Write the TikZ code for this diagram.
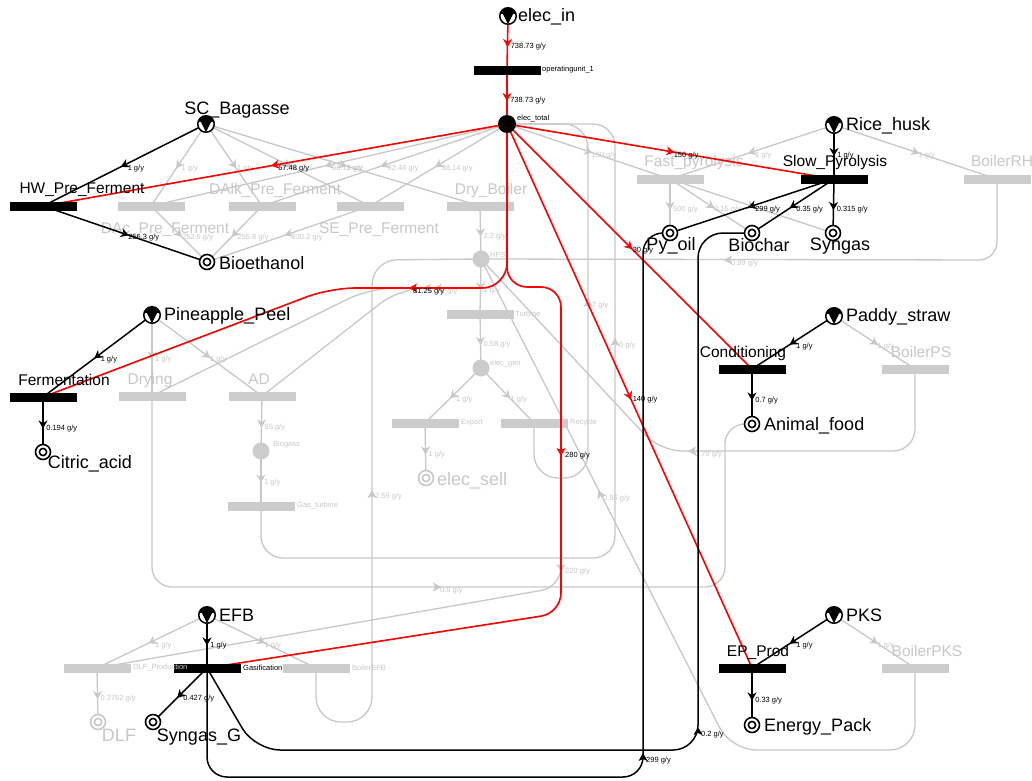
\documentclass[tikz,border=0pt]{standalone}
\usepackage{fontspec}
\setmainfont{Liberation Sans}
\usetikzlibrary{arrows.meta,decorations.markings}

\pgfdeclarelayer{paper}
\pgfdeclarelayer{offedges}
\pgfdeclarelayer{offnodes}
\pgfdeclarelayer{onedges}
\pgfsetlayers{paper,offedges,offnodes,onedges,main}

\definecolor{offgray}{RGB}{200,200,200}
\definecolor{bargray}{RGB}{204,204,204}
\definecolor{flowred}{RGB}{255,0,0}

\tikzset{
  matlbl/.style={font=\fontsize{18}{20}\selectfont, inner sep=0pt},
  oplbl/.style={font=\fontsize{15.5}{17}\selectfont, inner sep=0pt},
  tinylbl/.style={font=\fontsize{7.5}{9}\selectfont, inner sep=0pt, anchor=west},
  flowtxt/.style={font=\fontsize{7.5}{9}\selectfont, inner sep=0pt, anchor=west},
  elab/.style={flowtxt, xshift=2.5pt, yshift=-4pt, text=black},
  offlab/.style={flowtxt, xshift=2.5pt, yshift=-4pt, text=offgray},
  rawmat/.style={circle, draw=black, fill=white, line width=1.5pt, minimum size=16.5pt, inner sep=0pt,
    path picture={
      \fill[black] ([shift={(-5.2,-2.4)}]path picture bounding box.center)
        -- ([shift={(5.2,-2.4)}]path picture bounding box.center)
        -- ([shift={(0,8.2)}]path picture bounding box.center) -- cycle;
      \fill[black] ([shift={(-10,-2.4)}]path picture bounding box.center)
        rectangle ([shift={(10,-12)}]path picture bounding box.center);
    }},
  product/.style={circle, draw=black, fill=white, line width=1.6pt, minimum size=15pt, inner sep=0pt,
    path picture={\draw[black, line width=1.6pt] (path picture bounding box.center) circle[radius=3.6pt];}},
  offproduct/.style={circle, draw=offgray, fill=white, line width=1.6pt, minimum size=15pt, inner sep=0pt,
    path picture={\draw[offgray, line width=1.6pt] (path picture bounding box.center) circle[radius=3.6pt];}},
  actbar/.style={rectangle, fill=black, minimum width=67pt, minimum height=9pt, inner sep=0pt},
  offbar/.style={rectangle, fill=bargray, minimum width=67pt, minimum height=9pt, inner sep=0pt},
  hub/.style={circle, fill=black, minimum size=18pt, inner sep=0pt},
  offhub/.style={circle, fill=bargray, minimum size=17pt, inner sep=0pt},
  onflow/.style={draw=black, line width=1.5pt},
  redflow/.style={draw=flowred, line width=1.6pt},
  offflow/.style={draw=offgray, line width=1.3pt},
  midarrow/.style={postaction={decorate, decoration={markings,
      mark=at position 0.5 with {\pgftransformxshift{4pt}\arrow{Stealth[length=8pt,width=9pt,inset=2.5pt]}}}}},
  ahead/.pic={\fill (4,0) -- (-4,4.5) -- (-2,0) -- (-4,-4.5) -- cycle;}
}

\begin{document}
\begin{tikzpicture}[x=1pt, y=-1pt]
\useasboundingbox (0,0) rectangle (1032,780);
\begin{pgfonlayer}{paper}
  \fill[white] (0,0) rectangle (1032,780);
\end{pgfonlayer}

% ---------- active materials and units ----------
\node[rawmat] (elecin) at (508,16) {};
\node[matlbl, anchor=west] (elecinL) at (518,17) {elec\_in};
\node[actbar] (ou1) at (507,70) {};
\node[tinylbl] (ou1L) at (542,70) {operatingunit\_1};
\node[hub] (electotal) at (507,124) {};
\node[tinylbl] (electotalL) at (517,119) {elec\_total};

\node[rawmat] (scbag) at (206,124) {};
\node[matlbl] (scbagL) at (237,110) {SC\_Bagasse};
\node[actbar] (hw) at (43,206) {};
\node[oplbl] (hwL) at (82,190) {HW\_Pre\_Ferment};
\node[product] (bioeth) at (207,262) {};
\node[matlbl, anchor=west] (bioethL) at (219,263) {Bioethanol};

\node[rawmat] (rice) at (834,125) {};
\node[matlbl, anchor=west] (riceL) at (846,126) {Rice\_husk};
\node[actbar] (slowpy) at (834,179) {};
\node[oplbl] (slowpyL) at (835,162) {Slow\_Pyrolysis};
\node[product] (pyoil) at (670,233) {};
\node[matlbl] (pyoilL) at (671,246) {Py\_oil};
\node[product] (biochar) at (752,233) {};
\node[matlbl] (biocharL) at (759,245) {Biochar};
\node[product] (syngas) at (833,233) {};
\node[matlbl] (syngasL) at (840,246) {Syngas};

\node[rawmat] (paddy) at (834,316) {};
\node[matlbl, anchor=west] (paddyL) at (846,317) {Paddy\_straw};
\node[actbar] (cond) at (752,369) {};
\node[oplbl] (condL) at (743,353) {Conditioning};
\node[product] (animal) at (752,424) {};
\node[matlbl, anchor=west] (animalL) at (764,426) {Animal\_food};

\node[rawmat] (pks) at (834,615) {};
\node[matlbl, anchor=west] (pksL) at (846,615) {PKS};
\node[actbar] (ep) at (752,668) {};
\node[oplbl] (epL) at (758,652) {EP\_Prod};
\node[product] (energy) at (752,725) {};
\node[matlbl, anchor=west] (energyL) at (764,727) {Energy\_Pack};

\node[rawmat] (pine) at (152,315) {};
\node[matlbl, anchor=west] (pineL) at (164,316) {Pineapple\_Peel};
\node[actbar] (ferm) at (43,397) {};
\node[oplbl] (fermL) at (64,380) {Fermentation};
\node[product] (citric) at (43,452) {};
\node[matlbl] (citricL) at (90,464) {Citric\_acid};

\node[rawmat] (efb) at (207,615) {};
\node[matlbl, anchor=west] (efbL) at (219,615) {EFB};
\node[actbar] (gasif) at (207,668) {};
\node[tinylbl] (gasifL) at (243,668) {Gasification};
\node[product] (syngasg) at (153,722) {};
\node[matlbl] (syngasgL) at (199,737) {Syngas\_G};

% ---------- inactive materials and units ----------
\begin{pgfonlayer}{offnodes}
\node[offbar] (dac) at (151,206) {};
\node[oplbl, text=offgray] (dacL) at (165,230) {DAc\_Pre\_Ferment};
\node[offbar] (dalk) at (262,206) {};
\node[oplbl, text=offgray] (dalkL) at (275,190) {DAlk\_Pre\_Ferment};
\node[offbar] (se) at (370,206) {};
\node[oplbl, text=offgray] (seL) at (379,230) {SE\_Pre\_Ferment};
\node[offbar] (drybo) at (480,206) {};
\node[oplbl, text=offgray] (dryboL) at (491,190) {Dry\_Boiler};
\node[offbar] (fastpy) at (670,179) {};
\node[oplbl, text=offgray] (fastpyL) at (694,162) {Fast\_pyrolysis};
\node[offbar] (boilerrh) at (997,179) {};
\node[oplbl, text=offgray] (boilerrhL) at (1002,161) {BoilerRH};
\node[offbar] (boilerps) at (915,369) {};
\node[oplbl, text=offgray] (boilerpsL) at (921,352) {BoilerPS};
\node[offbar] (boilerpks) at (915,668) {};
\node[oplbl, text=offgray] (boilerpksL) at (927,651) {BoilerPKS};
\node[offbar] (drying) at (152,396) {};
\node[oplbl, text=offgray] (dryingL) at (150,380) {Drying};
\node[offbar] (ad) at (262,396) {};
\node[oplbl, text=offgray] (adL) at (259,379) {AD};
\node[offhub] (biogass) at (261,451) {};
\node[tinylbl, text=offgray] (biogassL) at (273,445) {Biogass};
\node[offbar] (gasturb) at (261,506) {};
\node[tinylbl, text=offgray] (gasturbL) at (297,506) {Gas\_turbine};
\node[offhub] (hps) at (481,259) {};
\node[tinylbl, text=offgray] (hpsL) at (490,255) {HPS};
\node[offbar] (turbine) at (480,314) {};
\node[tinylbl, text=offgray] (turbineL) at (515,314) {Turbine};
\node[offhub] (elecgen) at (481,368) {};
\node[tinylbl, text=offgray] (elecgenL) at (490,364) {elec\_gen};
\node[offbar] (export) at (425,423) {};
\node[tinylbl, text=offgray] (exportL) at (461,423) {Export};
\node[offbar] (recycle) at (534,423) {};
\node[tinylbl, text=offgray] (recycleL) at (570,423) {Recycle};
\node[offproduct] (elecsell) at (426,478) {};
\node[matlbl, text=offgray, anchor=west] (elecsellL) at (437,481) {elec\_sell};
\node[offbar] (dlfprod) at (97,668) {};
\node[offbar] (boilerefb) at (316,668) {};
\node[tinylbl, text=offgray] (boilerefbL) at (352,668) {BoilerEFB};
\node[offproduct] (dlf) at (98,722) {};
\node[matlbl, text=offgray] (dlfL) at (119,735) {DLF};
\end{pgfonlayer}
\node[tinylbl, text=offgray] (dlfprodL) at (133,668) {DLF\_Production};

% ---------- inactive flows ----------
\begin{pgfonlayer}{offedges}
\draw[offflow, midarrow] (scbag.center) -- node[offlab] {1 g/y} (dac.center);
\draw[offflow, midarrow] (scbag.center) -- node[offlab] {1 g/y} (dalk.center);
\draw[offflow, midarrow] (scbag.center) -- (se.center);
\draw[offflow, midarrow] (scbag.center) -- node[offlab] {1 g/y} (drybo.center);
\draw[offflow, midarrow] (electotal.center) -- node[offlab] {58.19 g/y} (dac.center);
\draw[offflow, midarrow] (electotal.center) -- node[offlab] {62.46 g/y} (dalk.center);
\draw[offflow, midarrow] (electotal.center) -- node[offlab] {38.14 g/y} (se.center);
\draw[offflow, midarrow] (dac.center) -- node[offlab] {252.6 g/y} (bioeth.center);
\draw[offflow, midarrow] (dalk.center) -- node[offlab] {255.8 g/y} (bioeth.center);
\draw[offflow, midarrow] (se.center) -- node[offlab] {230.2 g/y} (bioeth.center);
\draw[offflow, midarrow] (drybo.center) -- node[offlab] {2.2 g/y} (hps.center);
\draw[offflow, midarrow] (electotal.center) -- node[offlab] {150 g/y} (fastpy.center);
\draw[offflow, midarrow] (rice.center) -- node[offlab] {1 g/y} (fastpy.center);
\draw[offflow, midarrow] (rice.center) -- node[offlab] {1 g/y} (boilerrh.center);
\draw[offflow, midarrow] (fastpy.center) -- node[offlab] {500 g/y} (pyoil.center);
\draw[offflow, midarrow] (fastpy.center) -- node[offlab] {0.15 g/y} (biochar.center);
\draw[offflow, midarrow] (fastpy.center) -- (syngas.center);
\draw[offflow, midarrow] (paddy.center) -- node[offlab] {1 g/y} (boilerps.center);
\draw[offflow, midarrow] (pks.center) -- node[offlab] {1 g/y} (boilerpks.center);
\draw[offflow, midarrow] (pine.center) -- node[offlab] {1 g/y} (drying.center);
\draw[offflow, midarrow] (pine.center) -- node[offlab] {1 g/y} (ad.center);
\draw[offflow, midarrow] (ad.center) -- node[offlab] {55 g/y} (biogass.center);
\draw[offflow, midarrow] (biogass.center) -- node[offlab] {1 g/y} (gasturb.center);
\draw[offflow, midarrow] (hps.center) -- node[offlab] {1 g/y} (turbine.center);
\draw[offflow, midarrow] (turbine.center) -- node[offlab] {0.58 g/y} (elecgen.center);
\draw[offflow, midarrow] (elecgen.center) -- node[offlab] {1 g/y} (export.center);
\draw[offflow, midarrow] (elecgen.center) -- node[offlab] {1 g/y} (recycle.center);
\draw[offflow, midarrow] (export.center) -- node[offlab] {1 g/y} (elecsell.center);
\draw[offflow, midarrow] (efb.center) -- node[offlab] {1 g/y} (dlfprod.center);
\draw[offflow, midarrow] (efb.center) -- node[offlab] {1 g/y} (boilerefb.center);
\draw[offflow, midarrow] (dlfprod.center) -- node[offlab] {0.3752 g/y} (dlf.center);

% routed inactive flows
\draw[offflow, rounded corners=25pt] (electotal.center) -- (507,288) -- (370,288) -- (drying.center);
\path (438,288) pic[color=offgray, rotate=180] {ahead};
\node[flowtxt, text=offgray] at (441,292) {1 g/y};
\draw[offflow, rounded corners=25pt] (electotal.center) -- (507,288) -- (400,288) -- (ad.center);
\path (427,288) pic[color=offgray, rotate=180] {ahead};

\draw[offflow, rounded corners=20pt] (electotal.center) -- (507,287) -- (561,287) -- (561,587) -- (dlfprod.center);
\path (561,568) pic[color=offgray, rotate=-90] {ahead};
\node[flowtxt, text=offgray] at (565,572) {220 g/y};

\draw[offflow, rounded corners=24pt] (recycle.center) -- (534,478) -- (588,478) -- (588,124) -- (electotal.center);
\path (588,303) pic[color=offgray, rotate=90] {ahead};
\node[flowtxt, text=offgray] at (592,306) {7 g/y};

\draw[offflow, rounded corners=22pt] (gasturb.center) -- (261,558) -- (615,558) -- (615,124) -- (electotal.center);
\path (615,342) pic[color=offgray, rotate=90] {ahead};
\node[flowtxt, text=offgray] at (619,346) {0 g/y};

\draw[offflow, rounded corners=20pt] (drying.center) -- (152,587) -- (725,587) -- (725,424) -- (animal.center);
\path (437,587) pic[color=offgray, rotate=0] {ahead};
\node[flowtxt, text=offgray] at (440,591) {0.6 g/y};

\draw[offflow, rounded corners=25pt] (boilerefb.center) -- (316,722) -- (372,722) -- (372,260) -- (hps.center);
\path (372,494) pic[color=offgray, rotate=90] {ahead};
\node[flowtxt, text=offgray] at (375,497) {2.59 g/y};

\draw[offflow, rounded corners=18pt] (boilerrh.center) -- (997,260) -- (hps.center);
\path (728,260) pic[color=offgray, rotate=180] {ahead};
\node[flowtxt, text=offgray] at (731,264) {0.99 g/y};

\draw[offflow, rounded corners=22pt] (boilerps.center) -- (915,451) -- (660,451) -- (hps.center);
\path (692,451) pic[color=offgray, rotate=180] {ahead};
\node[flowtxt, text=offgray] at (695,455) {0.79 g/y};

\draw[offflow, rounded corners=25pt] (boilerpks.center) -- (915,750) -- (731,750) -- (hps.center);
\path (600,494) pic[color=offgray, rotate=117] {ahead};
\node[flowtxt, text=offgray] at (603,499) {0.96 g/y};
\end{pgfonlayer}

% ---------- active flows ----------
\begin{pgfonlayer}{onedges}
\draw[redflow, midarrow] (elecin.center) -- node[elab] {738.73 g/y} (ou1.center);
\draw[redflow, midarrow] (ou1.center) -- node[elab] {738.73 g/y} (electotal.center);
\draw[redflow, midarrow] (electotal.center) -- node[elab] {57.48 g/y} (hw.center);
\draw[redflow, midarrow] (electotal.center) -- node[elab] {150 g/y} (slowpy.center);
\draw[redflow, midarrow] (electotal.center) -- node[elab] {30 g/y} (cond.center);
\draw[redflow, midarrow] (electotal.center) -- node[elab] {140 g/y} (ep.center);

\draw[redflow, rounded corners=20pt] (electotal.center) -- (507,287) -- (561,287) -- (561,613) -- (gasif.center);
\path (561,452) pic[color=flowred, rotate=-90] {ahead};
\node[flowtxt] at (565,456) {280 g/y};

\draw[redflow, rounded corners=25pt] (electotal.center) -- (507,288) -- (330,288) -- (ferm.center);
\path (413,288) pic[color=flowred, rotate=180] {ahead};
\node[flowtxt] at (413,292) {81.25 g/y};

\draw[onflow, midarrow] (scbag.center) -- node[elab] {1 g/y} (hw.center);
\draw[onflow, midarrow] (hw.center) -- node[elab] {256.3 g/y} (bioeth.center);
\draw[onflow, midarrow] (rice.center) -- node[elab] {1 g/y} (slowpy.center);
\draw[onflow, midarrow] (slowpy.center) -- node[elab] {299 g/y} (pyoil.center);
\draw[onflow, midarrow] (slowpy.center) -- node[elab] {0.35 g/y} (biochar.center);
\draw[onflow, midarrow] (slowpy.center) -- node[elab] {0.315 g/y} (syngas.center);
\draw[onflow, midarrow] (paddy.center) -- node[elab] {1 g/y} (cond.center);
\draw[onflow, midarrow] (cond.center) -- node[elab] {0.7 g/y} (animal.center);
\draw[onflow, midarrow] (pks.center) -- node[elab] {1 g/y} (ep.center);
\draw[onflow, midarrow] (ep.center) -- node[elab] {0.33 g/y} (energy.center);
\draw[onflow, midarrow] (pine.center) -- node[elab] {1 g/y} (ferm.center);
\draw[onflow, midarrow] (ferm.center) -- node[elab] {0.194 g/y} (citric.center);
\draw[onflow, midarrow] (efb.center) -- node[elab] {1 g/y} (gasif.center);
\draw[onflow, midarrow] (gasif.center) -- node[elab] {0.427 g/y} (syngasg.center);

\draw[onflow, rounded corners=20pt] (gasif.center) -- (207,777) -- (643,777) -- (643,233) -- (pyoil.center);
\path (643,757) pic[color=black, rotate=90] {ahead};
\node[flowtxt] at (646,761) {299 g/y};

\draw[onflow, rounded corners=25pt] (gasif.center) -- (255,750) -- (698,750) -- (698,233) -- (biochar.center);
\path (698,731) pic[color=black, rotate=90] {ahead};
\node[flowtxt] at (701,735) {0.2 g/y};
\end{pgfonlayer}
\end{tikzpicture}
\end{document}
